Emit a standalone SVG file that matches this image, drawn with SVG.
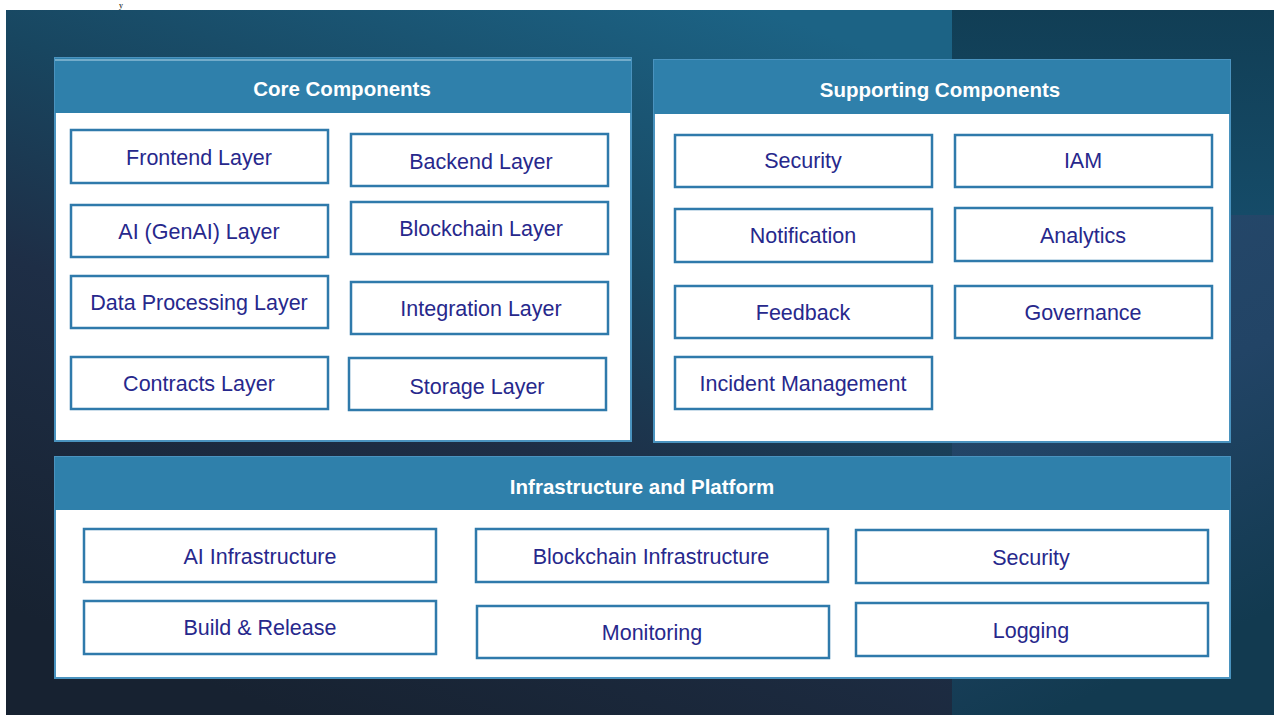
<svg xmlns="http://www.w3.org/2000/svg" width="1274" height="715" viewBox="0 0 1274 715">
  <defs>
    <linearGradient id="bgMain" x1="0.8" y1="0" x2="0.3" y2="1">
      <stop offset="0" stop-color="#1c6385"/>
      <stop offset="0.35" stop-color="#184660"/>
      <stop offset="0.6" stop-color="#1e2e46"/>
      <stop offset="1" stop-color="#172231"/>
    </linearGradient>
    <linearGradient id="bgRightTop" x1="0" y1="0" x2="0" y2="1">
      <stop offset="0" stop-color="#113e55"/>
      <stop offset="1" stop-color="#154b68"/>
    </linearGradient>
    <linearGradient id="bgRightBot" x1="0" y1="0" x2="0.3" y2="1">
      <stop offset="0" stop-color="#26496b"/>
      <stop offset="0.5" stop-color="#224466"/>
      <stop offset="1" stop-color="#123a50"/>
    </linearGradient>
    <style>
      .panel { fill: #ffffff; stroke: #4a93bf; stroke-width: 2; }
      .hdr { fill: #2f80ab; }
      .hdrline { stroke: #b8d8ea; stroke-width: 1.2; }
      .hdrtxt { font-family: "Liberation Sans", Arial, sans-serif; font-weight: bold; font-size: 20.5px; fill: #ffffff; text-anchor: middle; dominant-baseline: central; }
      .node rect { fill: #ffffff; stroke: #2f7aab; stroke-width: 2.5; }
      .node text { font-family: "Liberation Sans", Arial, sans-serif; font-size: 21.5px; fill: #27288c; text-anchor: middle; dominant-baseline: central; }
    </style>
  </defs>

  <rect x="0" y="0" width="1274" height="715" fill="#ffffff"/>
  <text x="119" y="8" font-family="Liberation Serif, serif" font-size="8" fill="#000000">y</text>
  <rect x="6" y="10" width="946" height="705" fill="url(#bgMain)"/>
  <rect x="952" y="10" width="322" height="205" fill="url(#bgRightTop)"/>
  <rect x="952" y="215" width="322" height="500" fill="url(#bgRightBot)"/>

  <g id="core-components">
    <rect class="panel" x="55" y="58" width="576" height="383"/>
    <rect class="hdr" x="55" y="58" width="576" height="55"/>
    <line class="hdrline" x1="55" y1="60" x2="631" y2="60"/>
    <text class="hdrtxt" x="342" y="88">Core Components</text>
  </g>
  <g id="supporting-components">
    <rect class="panel" x="654" y="60" width="576" height="382"/>
    <rect class="hdr" x="654" y="60" width="576" height="54"/>
    <text class="hdrtxt" x="940" y="89">Supporting Components</text>
  </g>
  <g id="infrastructure-platform">
    <rect class="panel" x="55" y="457" width="1175" height="221"/>
    <rect class="hdr" x="55" y="457" width="1175" height="53"/>
    <text class="hdrtxt" x="642" y="486">Infrastructure and Platform</text>
  </g>

  <g id="frontend-layer" class="node"><rect x="71" y="130" width="257" height="53"/><text x="199" y="158">Frontend Layer</text></g>
  <g id="backend-layer" class="node"><rect x="351" y="134" width="257" height="52"/><text x="481" y="162">Backend Layer</text></g>
  <g id="ai-genai-layer" class="node"><rect x="71" y="205" width="257" height="52"/><text x="199" y="232">AI (GenAI) Layer</text></g>
  <g id="blockchain-layer" class="node"><rect x="351" y="202" width="257" height="52"/><text x="481" y="229">Blockchain Layer</text></g>
  <g id="data-processing-layer" class="node"><rect x="71" y="276" width="257" height="52"/><text x="199" y="303">Data Processing Layer</text></g>
  <g id="integration-layer" class="node"><rect x="351" y="282" width="257" height="52"/><text x="481" y="309">Integration Layer</text></g>
  <g id="contracts-layer" class="node"><rect x="71" y="357" width="257" height="52"/><text x="199" y="384">Contracts Layer</text></g>
  <g id="storage-layer" class="node"><rect x="349" y="358" width="257" height="52"/><text x="477" y="387">Storage Layer</text></g>

  <g id="sup-security" class="node"><rect x="675" y="135" width="257" height="52"/><text x="803" y="161">Security</text></g>
  <g id="iam" class="node"><rect x="955" y="135" width="257" height="52"/><text x="1083" y="161">IAM</text></g>
  <g id="notification" class="node"><rect x="675" y="209" width="257" height="53"/><text x="803" y="236">Notification</text></g>
  <g id="analytics" class="node"><rect x="955" y="208" width="257" height="53"/><text x="1083" y="236">Analytics</text></g>
  <g id="feedback" class="node"><rect x="675" y="286" width="257" height="52"/><text x="803" y="313">Feedback</text></g>
  <g id="governance" class="node"><rect x="955" y="286" width="257" height="52"/><text x="1083" y="313">Governance</text></g>
  <g id="incident-management" class="node"><rect x="675" y="357" width="257" height="52"/><text x="803" y="384">Incident Management</text></g>

  <g id="ai-infrastructure" class="node"><rect x="84" y="529" width="352" height="53"/><text x="260" y="557">AI Infrastructure</text></g>
  <g id="blockchain-infrastructure" class="node"><rect x="476" y="529" width="352" height="53"/><text x="651" y="557">Blockchain Infrastructure</text></g>
  <g id="infra-security" class="node"><rect x="856" y="530" width="352" height="53"/><text x="1031" y="558">Security</text></g>
  <g id="build-release" class="node"><rect x="84" y="601" width="352" height="53"/><text x="260" y="628">Build &amp; Release</text></g>
  <g id="monitoring" class="node"><rect x="477" y="606" width="352" height="52"/><text x="652" y="633">Monitoring</text></g>
  <g id="logging" class="node"><rect x="856" y="603" width="352" height="53"/><text x="1031" y="631">Logging</text></g>

  <g id="connectors"></g>
</svg>
